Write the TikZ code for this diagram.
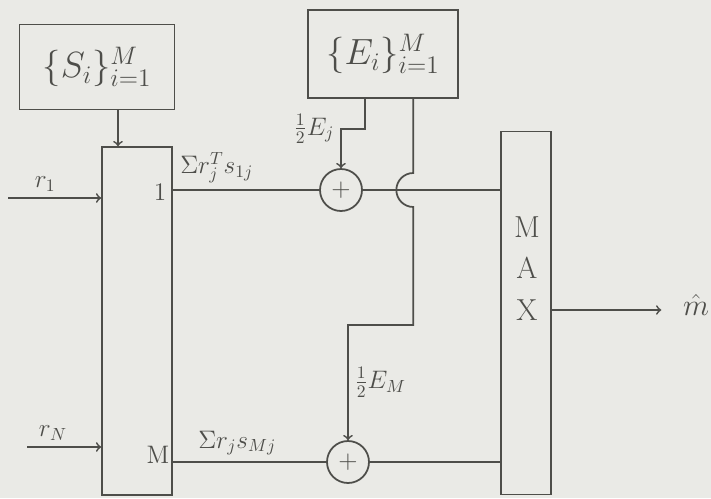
\documentclass[tikz,border=0pt]{standalone}
\usepackage{amsmath}
\usetikzlibrary{calc}
\definecolor{pencil}{RGB}{78,78,74}
\definecolor{paper}{RGB}{234,234,230}
\begin{document}
\begin{tikzpicture}[x=0.02cm,y=-0.02cm, line width=1pt, color=pencil,
  box/.style={draw, inner sep=0pt},
  adder/.style={draw, circle, minimum size=0.84cm, inner sep=0pt, font=\Large},
  lab/.style={font=\Large}]
\fill[paper] (0,0) rectangle (711,498);
\useasboundingbox (0,0) rectangle (711,498);

\node[box, minimum width=3.1cm, minimum height=1.7cm, font=\huge] (S) at (97,67) {$\{S_i\}_{i=1}^M$};
\node[box, minimum width=3cm, minimum height=1.76cm, font=\huge] (E) at (383,54) {$\{E_i\}_{i=1}^M$};
\node[box, minimum width=1.4cm, minimum height=6.96cm] (corr) at (137,321) {};
\node[box, minimum width=1cm, minimum height=7.26cm] (MAX) at (526,313) {};
\node[font=\LARGE] (m) at (527,227) {M};
\node[font=\LARGE] (a) at (527,268) {A};
\node[font=\LARGE] (x) at (527,310) {X};
\node[adder] (p1) at (341,190) {$+$};
\node[adder] (p2) at (348,462) {$+$};
\node[lab] (one) at (160,192) {1};
\node[lab] (M) at (158,455) {M};
\node[font=\LARGE] (mhat) at (696,305) {$\hat m$};

\coordinate (sa) at (118,0);
\coordinate (r1) at (8,198);
\coordinate (rN) at (27,447);
\coordinate (ea) at ($(E.south west)!0.38!(E.south east)$);
\coordinate (eb) at ($(E.south west)!0.7!(E.south east)$);
\coordinate (bend) at (0,325);

\draw[->] (sa |- S.south) -- (sa |- corr.north);
\draw[->] (r1) -- (r1 -| corr.west) node[pos=0.4, above, lab] {$r_1$};
\draw[->] (rN) -- (rN -| corr.west) node[pos=0.35, above, lab] {$r_N$};
\draw (corr.east |- p1) -- (p1.west) node[pos=0.3, above, lab] {$\Sigma r_j^T s_{1j}$};
\draw (corr.east |- p2) -- (p2.west) node[pos=0.42, above, lab] {$\Sigma r_j s_{Mj}$};
\draw[->] (ea) -- ++(0,30) -| (p1.north) node[pos=0.5, left, lab] {$\tfrac{1}{2}E_j$};
\draw[->] (eb) -- ($(eb |- p1)+(0,-17)$) arc[start angle=90, end angle=270, radius=0.34cm]
  -- (eb |- bend) -| (p2.north) node[pos=0.75, right, lab] {$\tfrac{1}{2}E_M$};
\draw (p1.east) -- (p1.east -| MAX.west);
\draw (p2.east) -- (p2.east -| MAX.west);
\draw[->, shorten >=0.3cm] (MAX.east |- x) -- (mhat.west |- x);
\end{tikzpicture}
\end{document}
